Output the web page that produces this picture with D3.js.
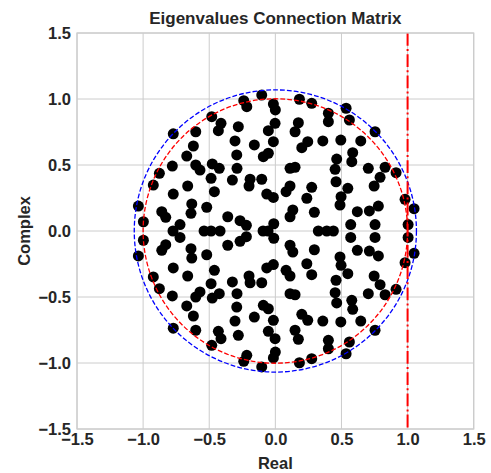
<!DOCTYPE html>
<html>
<head>
<meta charset="utf-8">
<script src="https://cdn.jsdelivr.net/npm/d3@7"></script>
<style>
  body { margin: 0; background: #fff; }
  svg { display: block; font-family: Arial, "Liberation Sans", sans-serif; }
</style>
</head>
<body>
<svg id="chart" width="491" height="473"></svg>
<script>
// complex eigenvalues, listed once per conjugate pair (re ± i*im)
const pairRe = [
  -0.103, -0.239, -0.216, -0.481, -0.411, -0.431, -0.280, -0.772, -0.602, -0.305,
  -0.159, -0.620, -0.670, -0.292, -0.779, -0.602, -0.570, -0.477, -0.424, -0.290,
  -0.877, -0.923, -0.486, -0.325, -0.191, -0.199, -0.103, -0.663, -0.461, -0.772,
  -0.065, -0.632, -0.638, -0.519, -1.036, -0.859, -0.829, -0.998, -0.360, -0.267,
  -0.219, -0.721, -0.012, -0.015, 0.000, -0.002, -0.053, -0.015, -0.053, -0.091,
  -0.015,
  0.182, 0.275, 0.401, 0.401, 0.535, 0.560, 0.174, 0.149, 0.754, 0.245,
  0.200, 0.359, 0.495, 0.646, 0.585, 0.578, 0.464, 0.452, 0.111, 0.149,
  0.703, 0.830, 0.913, 0.792, 0.459, 0.747, 0.275, 0.111, 0.081, 0.548,
  0.497, 0.238, 0.489, 0.981, 1.049, 0.779, 0.711, 0.620, 0.132, 0.111,
  0.295, 0.570, 0.754, 1.004
];
const pairIm = [
  1.030, 0.987, 0.942, 0.866, 0.816, 0.760, 0.790, 0.736, 0.752, 0.682,
  0.652, 0.644, 0.568, 0.576, 0.492, 0.500, 0.462, 0.508, 0.475, 0.475,
  0.437, 0.348, 0.399, 0.386, 0.392, 0.341, 0.392, 0.341, 0.298, 0.280,
  0.280, 0.205, 0.134, 0.180, 0.189, 0.146, 0.104, 0.070, 0.108, 0.078,
  0.043, 0.049, 0.055, 0.962, 0.917, 0.816, 0.760, 0.677, 0.589, 0.563,
  0.254,
  0.998, 0.967, 0.892, 0.828, 0.930, 0.841, 0.820, 0.752, 0.752, 0.677,
  0.631, 0.682, 0.689, 0.682, 0.593, 0.525, 0.545, 0.467, 0.475, 0.483,
  0.475, 0.483, 0.442, 0.407, 0.373, 0.341, 0.331, 0.341, 0.298, 0.323,
  0.260, 0.248, 0.197, 0.240, 0.169, 0.189, 0.152, 0.146, 0.159, 0.108,
  0.142, 0.049, 0.049, 0.049
];
// purely real eigenvalues
const realOnly = [-0.774, -0.539, -0.486, -0.418, -0.093, -0.055, 0.325, 0.389, 0.439];

const spectralRadius = 1.067;
const unitRadius = 1.0;
const markerLine = 1.0;
const ticks = [-1.5, -1.0, -0.5, 0.0, 0.5, 1.0, 1.5];
const domain = [-1.5, 1.5];

const points = [];
pairRe.forEach((re, i) => {
  points.push([re, pairIm[i]]);
  points.push([re, -pairIm[i]]);
});
realOnly.forEach(re => points.push([re, 0]));

const margin = { top: 33, right: 17.3, bottom: 44, left: 77 };
const svg = d3.select('#chart');
const width = 491 - margin.left - margin.right;
const height = 473 - margin.top - margin.bottom;

const x = d3.scaleLinear().domain(domain).range([0, width]);
const y = d3.scaleLinear().domain(domain).range([height, 0]);
const fmt = d3.format('.1f');

const g = svg.append('g').attr('transform', `translate(${margin.left},${margin.top})`);

// grid
g.append('g')
  .selectAll('line')
  .data(ticks)
  .enter()
  .append('line')
  .attr('x1', d => x(d)).attr('x2', d => x(d))
  .attr('y1', 0).attr('y2', height)
  .attr('stroke', '#cccccc').attr('stroke-width', 1);
g.append('g')
  .selectAll('line')
  .data(ticks)
  .enter()
  .append('line')
  .attr('y1', d => y(d)).attr('y2', d => y(d))
  .attr('x1', 0).attr('x2', width)
  .attr('stroke', '#cccccc').attr('stroke-width', 1);

// axes (labels only, seaborn whitegrid has no tick marks)
const xAxis = g.append('g')
  .attr('transform', `translate(0,${height})`)
  .call(d3.axisBottom(x).tickValues(ticks).tickFormat(fmt).tickSize(0).tickPadding(8));
const yAxis = g.append('g')
  .call(d3.axisLeft(y).tickValues(ticks).tickFormat(fmt).tickSize(0).tickPadding(6));
[xAxis, yAxis].forEach(a => {
  a.select('.domain').remove();
  a.selectAll('text')
    .attr('fill', '#262626')
    .style('font-size', '16.5px')
    .style('font-weight', 'bold')
    .style('font-family', 'Arial, "Liberation Sans", sans-serif');
});
xAxis.selectAll('text').attr('dy', '0.71em').attr('y', 4);

// eigenvalues
g.append('g')
  .selectAll('circle')
  .data(points)
  .enter()
  .append('circle')
  .attr('cx', d => x(d[0]))
  .attr('cy', d => y(d[1]))
  .attr('r', 5.5)
  .attr('fill', '#000');

// circles and stability line
g.append('circle')
  .attr('cx', x(0)).attr('cy', y(0))
  .attr('r', x(unitRadius) - x(0))
  .attr('fill', 'none')
  .attr('stroke', '#ff0000')
  .attr('stroke-width', 1.3)
  .attr('stroke-dasharray', '4.8,2.1');
g.append('circle')
  .attr('cx', x(0)).attr('cy', y(0))
  .attr('r', x(spectralRadius) - x(0))
  .attr('fill', 'none')
  .attr('stroke', '#0000ff')
  .attr('stroke-width', 1.3)
  .attr('stroke-dasharray', '4.8,2.1');
g.append('line')
  .attr('x1', x(markerLine)).attr('x2', x(markerLine))
  .attr('y1', 0).attr('y2', height)
  .attr('stroke', '#ff0000')
  .attr('stroke-width', 2)
  .attr('stroke-dasharray', '12.8,3.2,2,3.2');

// frame
g.append('rect')
  .attr('width', width).attr('height', height)
  .attr('fill', 'none')
  .attr('stroke', '#cccccc')
  .attr('stroke-width', 1.25);

// labels
svg.append('text')
  .attr('x', margin.left + width / 2).attr('y', 24)
  .attr('text-anchor', 'middle')
  .attr('fill', '#262626')
  .style('font-size', '17px').style('font-weight', 'bold')
  .text('Eigenvalues Connection Matrix');
svg.append('text')
  .attr('x', margin.left + width / 2).attr('y', 469)
  .attr('text-anchor', 'middle')
  .attr('fill', '#262626')
  .style('font-size', '16.5px').style('font-weight', 'bold')
  .text('Real');
svg.append('text')
  .attr('transform', `translate(30,${margin.top + height / 2}) rotate(-90)`)
  .attr('text-anchor', 'middle')
  .attr('fill', '#262626')
  .style('font-size', '16.5px').style('font-weight', 'bold')
  .text('Complex');
</script>
</body>
</html>
